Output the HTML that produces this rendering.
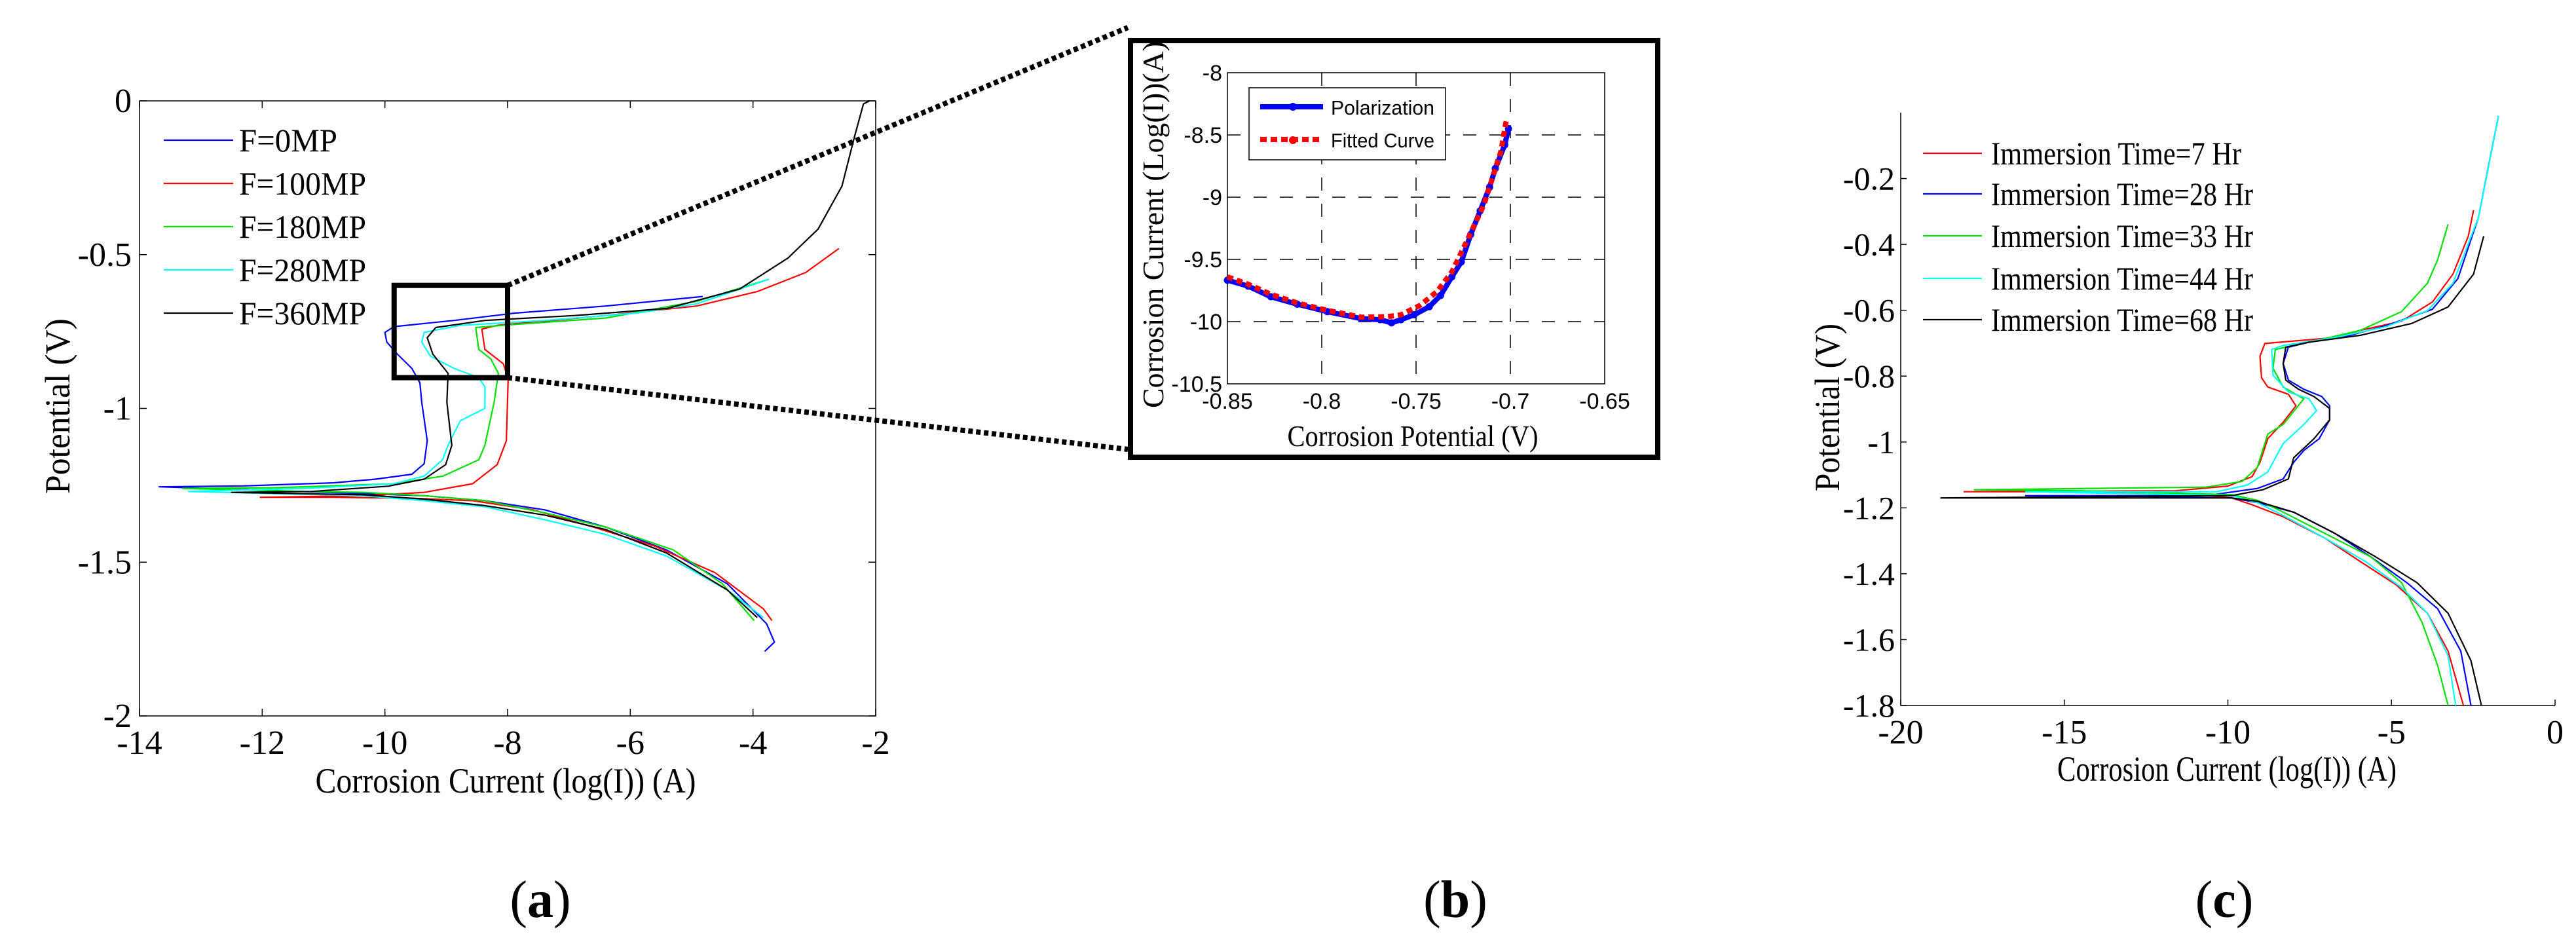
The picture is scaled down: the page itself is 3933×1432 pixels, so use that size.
<!DOCTYPE html>
<html><head><meta charset="utf-8">
<style>
html,body{margin:0;padding:0;background:#fff;}
svg{display:block;}
text{font-family:"Liberation Serif",serif;fill:#000;}
.sans{font-family:"Liberation Sans",sans-serif;}
</style></head>
<body>
<svg id="fig" width="3933" height="1432" viewBox="0 0 3933 1432" xmlns="http://www.w3.org/2000/svg">
  <g id="pa"></g>
  <g id="pb"></g>
  <g id="pc"></g>
  <g id="zoomlinks"></g>
  <text x="825" y="1400" font-size="80" text-anchor="middle">(<tspan font-weight="bold">a</tspan>)</text>
  <text x="2222" y="1400" font-size="80" text-anchor="middle">(<tspan font-weight="bold">b</tspan>)</text>
  <text x="3396" y="1400" font-size="80" text-anchor="middle">(<tspan font-weight="bold">c</tspan>)</text>
</svg>
<script>
// ---------- Panel A data ----------
const aNames = ["F=0MP","F=100MP","F=180MP","F=280MP","F=360MP"];
const aColors = ["#0000ff","#ff0000","#00e000","#00ffff","#000000"];
const aXTicks = [-14,-12,-10,-8,-6,-4,-2];
const aYTicks = [0,-0.5,-1,-1.5,-2];
const aYTickLabels = ["0","-0.5","-1","-1.5","-2"];
const aSeries0 = [[-3.81,-1.79],[-3.65,-1.76],[-3.78,-1.70],[-4.42,-1.57],[-5.41,-1.46],[-6.4,-1.386],[-7.39,-1.33],[-8.37,-1.30],[-9.36,-1.284],[-10.35,-1.277],[-12.3,-1.264],[-13.68,-1.255],[-12.3,-1.252],[-10.84,-1.242],[-10.15,-1.23],[-9.56,-1.214],[-9.36,-1.18],[-9.31,-1.105],[-9.4,-0.98],[-9.43,-0.917],[-9.56,-0.87],[-9.8,-0.823],[-9.97,-0.784],[-10.0,-0.753],[-9.85,-0.734],[-8.87,-0.714],[-7.88,-0.69],[-6.4,-0.667],[-4.82,-0.636]];
const aSeries1 = [[-3.69,-1.69],[-3.83,-1.652],[-4.62,-1.534],[-5.6,-1.448],[-6.6,-1.386],[-7.58,-1.33],[-8.57,-1.30],[-9.56,-1.292],[-10.84,-1.289],[-12.03,-1.289],[-10.35,-1.284],[-9.36,-1.273],[-8.57,-1.245],[-8.17,-1.183],[-8.02,-1.105],[-7.99,-0.902],[-8.07,-0.855],[-8.37,-0.808],[-8.42,-0.742],[-8.17,-0.73],[-6.4,-0.698],[-4.92,-0.667],[-3.93,-0.62],[-3.14,-0.558],[-2.6,-0.48]];
const aSeries2 = [[-3.98,-1.69],[-4.5,-1.57],[-5.3,-1.46],[-6.4,-1.386],[-7.39,-1.34],[-8.37,-1.30],[-9.36,-1.284],[-10.35,-1.273],[-11.3,-1.27],[-13.3,-1.26],[-11.8,-1.258],[-9.85,-1.245],[-9.05,-1.22],[-8.47,-1.167],[-8.37,-1.12],[-8.22,-0.98],[-8.15,-0.886],[-8.27,-0.84],[-8.47,-0.808],[-8.52,-0.737],[-7.88,-0.727],[-6.4,-0.706],[-4.92,-0.652],[-3.74,-0.58]];
const aSeries3 = [[-3.83,-1.68],[-4.42,-1.59],[-5.41,-1.48],[-6.4,-1.41],[-7.39,-1.362],[-8.37,-1.32],[-9.36,-1.30],[-10.35,-1.284],[-11.8,-1.277],[-13.2,-1.27],[-11.3,-1.26],[-9.85,-1.245],[-9.36,-1.22],[-9.06,-1.167],[-8.97,-1.12],[-8.77,-1.04],[-8.37,-1.0],[-8.37,-0.93],[-8.47,-0.9],[-8.87,-0.87],[-9.26,-0.83],[-9.4,-0.784],[-9.36,-0.753],[-8.77,-0.73],[-7.39,-0.714],[-5.9,-0.69],[-4.92,-0.66],[-3.74,-0.58]];
const aSeries4 = [[-3.93,-1.68],[-4.42,-1.59],[-5.41,-1.47],[-6.4,-1.394],[-7.39,-1.347],[-8.37,-1.316],[-9.36,-1.295],[-10.35,-1.281],[-12.5,-1.273],[-11.2,-1.27],[-9.95,-1.253],[-9.36,-1.23],[-9.01,-1.183],[-8.91,-1.12],[-8.99,-0.98],[-8.97,-0.886],[-9.22,-0.823],[-9.31,-0.77],[-9.17,-0.737],[-8.37,-0.714],[-6.9,-0.698],[-5.4,-0.675],[-4.22,-0.612],[-3.43,-0.511],[-2.94,-0.417],[-2.55,-0.277],[-2.35,-0.12],[-2.2,-0.01],[-2.1,0]];
const aZoomBox = [-9.85,-8,-0.6,-0.9];

// ---------- Panel B data ----------
const bXTicks = [-0.85,-0.8,-0.75,-0.7,-0.65];
const bXTickLabels = ["-0.85","-0.8","-0.75","-0.7","-0.65"];
const bYTicks = [-8,-8.5,-9,-9.5,-10,-10.5];
const bYTickLabels = ["-8","-8.5","-9","-9.5","-10","-10.5"];
const bPolX = [-0.85,-0.839,-0.827,-0.813,-0.797,-0.779,-0.769,-0.763,-0.758,-0.751,-0.743,-0.737,-0.731,-0.726,-0.721,-0.716,-0.711,-0.708,-0.703,-0.701];
const bPolY = [-9.667,-9.715,-9.80,-9.86,-9.92,-9.976,-9.985,-10.01,-9.985,-9.945,-9.88,-9.79,-9.64,-9.52,-9.30,-9.11,-8.92,-8.77,-8.58,-8.45];
const bFitX = [-0.85,-0.839,-0.827,-0.813,-0.797,-0.779,-0.765,-0.758,-0.748,-0.739,-0.731,-0.723,-0.714,-0.705,-0.702];
const bFitY = [-9.64,-9.70,-9.78,-9.85,-9.91,-9.965,-9.96,-9.945,-9.87,-9.76,-9.60,-9.35,-9.06,-8.63,-8.37];

// ---------- Panel C data ----------
const cNames = ["Immersion Time=7 Hr","Immersion Time=28 Hr","Immersion Time=33 Hr","Immersion Time=44 Hr","Immersion Time=68 Hr"];
const cColors = ["#ff0000","#0000ff","#00e000","#00ffff","#000000"];
const cXTicks = [-20,-15,-10,-5,0];
const cYTicks = [-0.2,-0.4,-0.6,-0.8,-1,-1.2,-1.4,-1.6,-1.8];
const cYTickLabels = ["-0.2","-0.4","-0.6","-0.8","-1","-1.2","-1.4","-1.6","-1.8"];
const cSeries0 = [[-2.8,-1.8],[-3.27,-1.635],[-3.9,-1.52],[-4.85,-1.434],[-5.95,-1.363],[-7.05,-1.291],[-8.31,-1.227],[-9.25,-1.191],[-9.88,-1.17],[-11.46,-1.155],[-14.6,-1.151],[-18.06,-1.151],[-11.6,-1.148],[-10.0,-1.134],[-9.26,-1.105],[-9.02,-1.062],[-8.78,-0.99],[-8.31,-0.94],[-7.92,-0.89],[-8.15,-0.855],[-8.78,-0.833],[-8.97,-0.805],[-9.02,-0.74],[-8.87,-0.701],[-6.74,-0.683],[-5.95,-0.661],[-4.69,-0.633],[-3.75,-0.575],[-3.12,-0.49],[-2.65,-0.375],[-2.49,-0.296]];
const cSeries1 = [[-2.57,-1.8],[-2.88,-1.635],[-3.59,-1.506],[-4.53,-1.427],[-5.63,-1.349],[-6.74,-1.277],[-7.99,-1.213],[-9.1,-1.184],[-9.88,-1.17],[-13.03,-1.165],[-16.18,-1.163],[-10.67,-1.163],[-9.1,-1.141],[-8.31,-1.112],[-7.99,-1.062],[-7.68,-1.026],[-7.21,-0.99],[-6.89,-0.933],[-6.89,-0.89],[-7.13,-0.862],[-7.68,-0.84],[-8.15,-0.812],[-8.31,-0.762],[-8.15,-0.712],[-7.52,-0.697],[-6.27,-0.676],[-5.17,-0.647],[-3.75,-0.597],[-2.97,-0.504],[-2.34,-0.318],[-2.03,-0.16],[-1.73,-0.01]];
const cSeries2 = [[-3.27,-1.8],[-3.59,-1.678],[-4.06,-1.549],[-4.69,-1.427],[-5.63,-1.349],[-7.05,-1.277],[-8.47,-1.205],[-9.1,-1.177],[-9.88,-1.16],[-14.6,-1.148],[-17.75,-1.145],[-10.67,-1.137],[-9.57,-1.12],[-9.1,-1.077],[-8.78,-0.976],[-8.31,-0.947],[-7.68,-0.869],[-8.31,-0.833],[-8.62,-0.776],[-8.55,-0.719],[-7.52,-0.697],[-5.95,-0.661],[-4.69,-0.604],[-3.9,-0.518],[-3.59,-0.447],[-3.27,-0.339]];
const cSeries3 = [[-3.04,-1.8],[-3.27,-1.649],[-3.9,-1.52],[-4.69,-1.442],[-5.79,-1.363],[-7.05,-1.291],[-8.31,-1.223],[-9.1,-1.184],[-9.88,-1.163],[-16.18,-1.151],[-10.35,-1.151],[-9.41,-1.131],[-8.78,-1.091],[-8.31,-1.005],[-7.68,-0.947],[-7.29,-0.905],[-7.52,-0.869],[-8.15,-0.848],[-8.62,-0.797],[-8.66,-0.719],[-8.31,-0.707],[-6.74,-0.683],[-5.17,-0.65],[-3.9,-0.601],[-3.12,-0.518],[-2.34,-0.318],[-1.73,-0.01]];
const cSeries4 = [[-2.25,-1.8],[-2.57,-1.664],[-3.27,-1.52],[-4.22,-1.427],[-5.48,-1.349],[-6.74,-1.277],[-7.99,-1.213],[-9.1,-1.18],[-9.88,-1.17],[-14.6,-1.17],[-18.77,-1.17],[-9.88,-1.163],[-8.93,-1.145],[-8.15,-1.112],[-7.99,-1.048],[-7.37,-0.99],[-6.89,-0.933],[-6.89,-0.898],[-7.37,-0.862],[-7.84,-0.84],[-8.23,-0.812],[-8.31,-0.762],[-8.23,-0.712],[-7.52,-0.697],[-5.95,-0.676],[-4.38,-0.64],[-3.27,-0.59],[-2.49,-0.49],[-2.18,-0.375]];

const NS = "http://www.w3.org/2000/svg";
function mk(parent, tag, attrs, txt){
  const e = document.createElementNS(NS, tag);
  for (const k in attrs) e.setAttribute(k, attrs[k]);
  if (txt !== undefined) e.textContent = txt;
  parent.appendChild(e);
  return e;
}
function lin(d0,d1,p0,p1){ return v => p0 + (v-d0)/(d1-d0)*(p1-p0); }
function pathOf(pts, sx, sy){ return pts.map((p,i)=>(i?"L":"M")+sx(p[0]).toFixed(1)+" "+sy(p[1]).toFixed(1)).join(" "); }

// ================= Panel A =================
(function(){
  const g = document.getElementById('pa');
  const L=213,R=1337,T=154,B=1093;
  const sx = lin(-14,-2,L,R), sy = lin(0,-2,T,B);
  const frame = mk(g,'rect',{x:L,y:T,width:R-L,height:B-T,fill:'none',stroke:'#000','stroke-width':1.5});
  
  
  aXTicks.forEach(v=>{
    const x=sx(v);
    const t1=mk(g,'line',{x1:x,y1:B,x2:x,y2:B-11,stroke:'#000','stroke-width':1.5});
    
    
    mk(g,'line',{x1:x,y1:T,x2:x,y2:T+11,stroke:'#000','stroke-width':1.5});
    const lb=mk(g,'text',{x:x,y:B+58,'font-size':52,'text-anchor':'middle'},String(v));
    
    
  });
  aYTicks.forEach((v,i)=>{
    const y=sy(v);
    const t1=mk(g,'line',{x1:L,y1:y,x2:L+11,y2:y,stroke:'#000','stroke-width':1.5});
    
    
    mk(g,'line',{x1:R,y1:y,x2:R-11,y2:y,stroke:'#000','stroke-width':1.5});
    const lb=mk(g,'text',{x:L-12,y:y+17,'font-size':52,'text-anchor':'end'},aYTickLabels[i]);
    
    
  });
  const xl=mk(g,'text',{x:772,y:1210,'font-size':54,'text-anchor':'middle',textLength:581,lengthAdjust:'spacingAndGlyphs'},'Corrosion Current (log(I)) (A)');
  
  
  const yl=mk(g,'text',{x:0,y:0,'font-size':54,'text-anchor':'middle',textLength:268,lengthAdjust:'spacingAndGlyphs',transform:'translate(106,620) rotate(-90)'},'Potential (V)');
  
  
  [aSeries0,aSeries1,aSeries2,aSeries3,aSeries4].forEach((s,i)=>{
    const p=mk(g,'path',{d:pathOf(s,sx,sy),fill:'none',stroke:aColors[i],'stroke-width':2.2,'stroke-linejoin':'round'});
    
    
  });
  aNames.forEach((n,i)=>{
    const y=214+i*66;
    const ln=mk(g,'line',{x1:250,y1:y,x2:356,y2:y,stroke:aColors[i],'stroke-width':2.2});
    
    
    const tx=mk(g,'text',{x:365,y:y+17,'font-size':50,textLength:(i==0?150:194),lengthAdjust:'spacingAndGlyphs'},n);
    
    
  });
  const zb=mk(g,'rect',{x:sx(aZoomBox[0]),y:sy(aZoomBox[2]),width:sx(aZoomBox[1])-sx(aZoomBox[0]),height:sy(aZoomBox[3])-sy(aZoomBox[2]),fill:'none',stroke:'#000','stroke-width':8});
  
  
  const zl=document.getElementById('zoomlinks');
  const d1=mk(zl,'line',{x1:sx(aZoomBox[1]),y1:sy(aZoomBox[2]),x2:1722,y2:42,stroke:'#000','stroke-width':8,'stroke-dasharray':'7 5'});
  
  
  const d2=mk(zl,'line',{x1:sx(aZoomBox[1]),y1:sy(aZoomBox[3]),x2:1722,y2:686,stroke:'#000','stroke-width':8,'stroke-dasharray':'7 5'});
  
  
})();

// ================= Panel B =================
(function(){
  const g = document.getElementById('pb');
  const outer=mk(g,'rect',{x:1726,y:62,width:805,height:636,fill:'#fff',stroke:'#000','stroke-width':8});
  
  
  const L=1874,R=2450,T=111,B=586;
  const sx=lin(-0.85,-0.65,L,R), sy=lin(-8,-10.5,T,B);
  bXTicks.forEach((v,i)=>{
    const x=sx(v);
    if(i>0&&i<bXTicks.length-1){
      const gl=mk(g,'line',{x1:x,y1:T,x2:x,y2:B,stroke:'#000','stroke-width':1.5,'stroke-dasharray':'20 20'});
      
      
    }
    const lb=mk(g,'text',{x:x,y:624,'font-size':34,'text-anchor':'middle','class':'sans'},bXTickLabels[i]);
    
    
  });
  bYTicks.forEach((v,i)=>{
    const y=sy(v);
    if(i>0&&i<bYTicks.length-1){
      const gl=mk(g,'line',{x1:L,y1:y,x2:R,y2:y,stroke:'#000','stroke-width':1.5,'stroke-dasharray':'20 20'});
      
      
    }
    const lb=mk(g,'text',{x:L-8,y:y+12,'font-size':34,'text-anchor':'end','class':'sans'},bYTickLabels[i]);
    
    
  });
  const fr=mk(g,'rect',{x:L,y:T,width:R-L,height:B-T,fill:'none',stroke:'#000','stroke-width':1.5});
  
  
  const pol=bPolX.map((x,i)=>[x,bPolY[i]]);
  const fit=bFitX.map((x,i)=>[x,bFitY[i]]);
  const pp=mk(g,'path',{d:pathOf(pol,sx,sy),fill:'none',stroke:'#0000ff','stroke-width':8,'stroke-linejoin':'round'});
  
  
  pol.forEach(p=>{
    const c=mk(g,'circle',{cx:sx(p[0]),cy:sy(p[1]),r:5.5,fill:'#0000ff'});
    
    
  });
  const fp=mk(g,'path',{d:pathOf(fit,sx,sy),fill:'none',stroke:'#ff0000','stroke-width':8,'stroke-dasharray':'9 6'});
  
  
  const lg=mk(g,'rect',{x:1907,y:134,width:300,height:110,fill:'#fff',stroke:'#000','stroke-width':1.5});
  
  
  const l1=mk(g,'line',{x1:1924,y1:163,x2:2020,y2:163,stroke:'#0000ff','stroke-width':8});
  
  
  mk(g,'circle',{cx:1974,cy:163,r:6,fill:'#0000ff'});
  const t1=mk(g,'text',{x:2032,y:175,'font-size':31,'class':'sans',textLength:158,lengthAdjust:'spacingAndGlyphs'},'Polarization');
  
  
  const l2=mk(g,'line',{x1:1924,y1:213,x2:2020,y2:213,stroke:'#ff0000','stroke-width':8,'stroke-dasharray':'10 6'});
  
  
  mk(g,'circle',{cx:1974,cy:214,r:6,fill:'#ff0000'});
  const t2=mk(g,'text',{x:2032,y:225,'font-size':31,'class':'sans',textLength:158,lengthAdjust:'spacingAndGlyphs'},'Fitted Curve');
  
  
  const xl=mk(g,'text',{x:2157,y:681,'font-size':46,'text-anchor':'middle',textLength:383,lengthAdjust:'spacingAndGlyphs'},'Corrosion Potential (V)');
  
  
  const yl=mk(g,'text',{x:0,y:0,'font-size':46,'text-anchor':'middle',textLength:560,lengthAdjust:'spacingAndGlyphs',transform:'translate(1776,343) rotate(-90)'},'Corrosion Current (Log(I))(A)');
  
  
})();

// ================= Panel C =================
(function(){
  const g=document.getElementById('pc');
  const L=2902,R=3901,T=172,B=1077;
  const sx=lin(-20,0,L,R), sy=lin(0,-1.8,T,B);
  const ax=mk(g,'path',{d:`M${L} ${T} L${L} ${B} L${R} ${B}`,fill:'none',stroke:'#000','stroke-width':1.5});
  
  
  cXTicks.forEach(v=>{
    const x=sx(v);
    const t=mk(g,'line',{x1:x,y1:B,x2:x,y2:B-9,stroke:'#000','stroke-width':1.5});
    
    
    const lb=mk(g,'text',{x:x,y:1135,'font-size':52,'text-anchor':'middle'},String(v));
    
    
  });
  cYTicks.forEach((v,i)=>{
    const y=sy(v);
    const t=mk(g,'line',{x1:L,y1:y,x2:L+9,y2:y,stroke:'#000','stroke-width':1.5});
    
    
    const lb=mk(g,'text',{x:L-9,y:y+17,'font-size':50,'text-anchor':'end'},cYTickLabels[i]);
    
    
  });
  [cSeries0,cSeries1,cSeries2,cSeries3,cSeries4].forEach((s,i)=>{
    const p=mk(g,'path',{d:pathOf(s,sx,sy),fill:'none',stroke:cColors[i],'stroke-width':2.2,'stroke-linejoin':'round'});
    
    
  });
  cNames.forEach((n,i)=>{
    const y=[234,296,360,425,488][i];
    const ln=mk(g,'line',{x1:2936,y1:y,x2:3026,y2:y,stroke:cColors[i],'stroke-width':2.2});
    
    
    const tx=mk(g,'text',{x:3040,y:y+17,'font-size':50,textLength:(i==0?382:400),lengthAdjust:'spacingAndGlyphs'},n);
    
    
  });
  const xl=mk(g,'text',{x:3400,y:1192,'font-size':54,'text-anchor':'middle',textLength:518,lengthAdjust:'spacingAndGlyphs'},'Corrosion Current (log(I)) (A)');
  
  
  const yl=mk(g,'text',{x:0,y:0,'font-size':54,'text-anchor':'middle',textLength:256,lengthAdjust:'spacingAndGlyphs',transform:'translate(2808,622) rotate(-90)'},'Potential (V)');
  
  
})();
</script>
</body></html>
